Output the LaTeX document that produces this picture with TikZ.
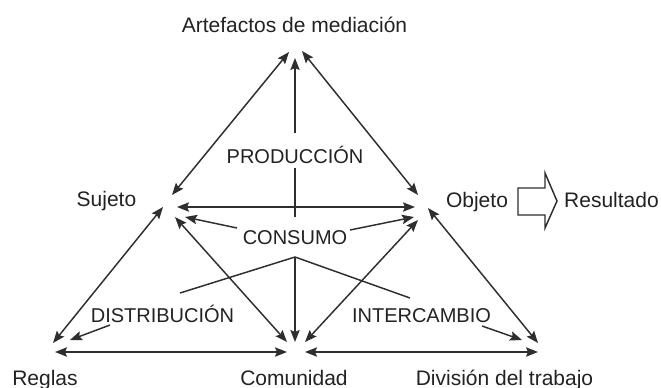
\documentclass[tikz,border=0pt]{standalone}
\usepackage{fontspec}
\setmainfont{Liberation Sans}
\usetikzlibrary{arrows.meta}
\definecolor{ln}{HTML}{2E2E2E}
\definecolor{txt}{HTML}{222222}
\begin{document}
\begin{tikzpicture}[x=0.75pt,y=-0.75pt,
  lbl/.style={inner sep=0pt, anchor=base, text=txt, font=\fontsize{15.75}{18}\selectfont},
  ilbl/.style={inner sep=0pt, anchor=base, text=txt, font=\fontsize{15}{18}\selectfont},
  conn/.style={draw=ln, line width=1.1pt},
  tip/.tip={Stealth[length=9pt,width=7pt,inset=1.5pt]},
  dbl/.style={conn, tip-tip},
  one/.style={conn, -tip},
  plain/.style={conn}]
\useasboundingbox (0,0) rectangle (661,387);

% labels
\node[lbl] (art) at (294.5,32) {Artefactos de mediación};
\node[lbl] (suj) at (106.5,206) {Sujeto};
\node[lbl] (obj) at (477,207) {Objeto};
\node[lbl] (res) at (611.5,207) {Resultado};
\node[lbl] (reg) at (45,385) {Reglas};
\node[lbl] (com) at (294,385) {Comunidad};
\node[lbl] (div) at (504.5,385) {División del trabajo};
\node[ilbl] (prod) at (295,163) {PRODUCCIÓN};
\node[ilbl] (cons) at (295,244) {CONSUMO};
\node[ilbl] (dist) at (162.5,322) {DISTRIBUCIÓN};
\node[ilbl] (inter) at (421.5,322) {INTERCAMBIO};

% endpoint coordinates
\coordinate (aL) at (289,52);
\coordinate (aR) at (302,51);
\coordinate (aV) at (295,58);
\coordinate (sT) at (172,195);
\coordinate (sB) at (163,207);
\coordinate (sH) at (177,207);
\coordinate (sC) at (185,217);
\coordinate (sD) at (175,217);
\coordinate (oT) at (418,195);
\coordinate (oH) at (415,207);
\coordinate (oC) at (414,217);
\coordinate (oD) at (418,220);
\coordinate (oB) at (428,208);
\coordinate (rT) at (53,343);
\coordinate (rH) at (55,352);
\coordinate (rX) at (70,340);
\coordinate (cL) at (287,342);
\coordinate (cV) at (295,342);
\coordinate (cR) at (305,342);
\coordinate (cHL) at (287,352);
\coordinate (cHR) at (305,352);
\coordinate (dT) at (538,343);
\coordinate (dH) at (538,352);
\coordinate (dX) at (522,340);
\coordinate (pT) at (295,133);
\coordinate (pB) at (295,168);
\coordinate (kT) at (295,217);
\coordinate (jn) at (295,257);
\coordinate (kL) at (237,228);
\coordinate (kR) at (350,230);
\coordinate (dsA) at (180,293);
\coordinate (dsB) at (110,325);
\coordinate (inA) at (410,298);
\coordinate (inB) at (482,326);

% triangle sides
\draw[dbl] (sT) -- (aL);
\draw[dbl] (oT) -- (aR);
\draw[dbl] (rT) -- (sB);
\draw[dbl] (dT) -- (oB);
\draw[dbl] (rH) -- (cHL);
\draw[dbl] (cHR) -- (dH);
\draw[dbl] (sH) -- (oH);
\draw[dbl] (sD) -- (cL);
\draw[dbl] (oD) -- (cR);

% vertical axis
\draw[one] (pT) -- (aV);
\draw[plain] (pB) -- (kT);
\draw[one] (jn) -- (cV);

% consumo arrows
\draw[one] (kL) -- (sC);
\draw[one] (kR) -- (oC);

% distribution / exchange
\draw[plain] (jn) -- (dsA);
\draw[one] (dsB) -- (rX);
\draw[plain] (jn) -- (inA);
\draw[one] (inB) -- (dX);

% result block arrow
\draw[draw=ln, line width=1.1pt, fill=white, line join=miter]
  (518,188) -- (545,188) -- (545,173) -- (557,201) -- (545,228) -- (545,215) -- (518,215) -- cycle;
\end{tikzpicture}
\end{document}
